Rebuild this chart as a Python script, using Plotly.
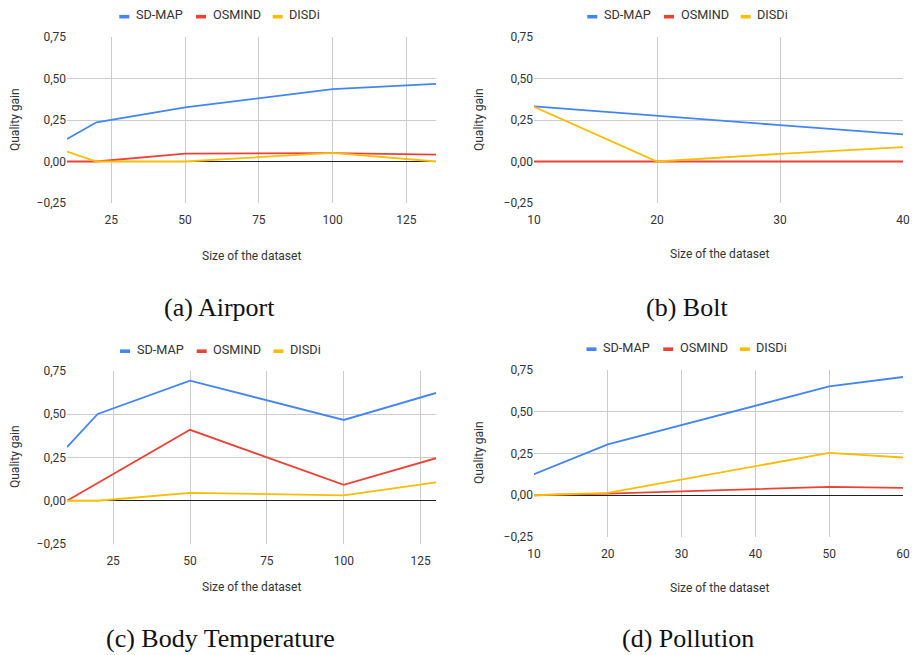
import plotly.graph_objects as go

# ---------------- data ----------------
series_names = ["SD-MAP", "OSMIND", "DISDi"]
series_colors = ["#4285F4", "#EA4335", "#FBBC04"]

a_x = [10, 20, 50, 100, 135]
a_sdmap = [0.136, 0.236, 0.326, 0.436, 0.468]
a_osmind = [0.0, 0.0, 0.048, 0.050, 0.042]
a_disdi = [0.060, 0.0, 0.0, 0.052, 0.0]

b_x = [10, 20, 30, 40]
b_sdmap = [0.332, 0.274, 0.219, 0.163]
b_osmind = [0.0, 0.0, 0.0, 0.0]
b_disdi = [0.330, 0.0, 0.046, 0.086]

c_x = [10, 20, 50, 100, 130]
c_sdmap = [0.310, 0.502, 0.694, 0.467, 0.623]
c_osmind = [0.0, 0.102, 0.410, 0.092, 0.246]
c_disdi = [0.0, 0.0, 0.046, 0.031, 0.106]

d_x = [10, 20, 50, 60]
d_sdmap = [0.126, 0.304, 0.652, 0.708]
d_osmind = [0.0, 0.010, 0.050, 0.044]
d_disdi = [0.0, 0.014, 0.254, 0.226]

captions = ["(a) Airport", "(b) Bolt", "(c) Body Temperature", "(d) Pollution"]
x_title = "Size of the dataset"
y_title = "Quality gain"
y_ticks = [-0.25, 0.0, 0.25, 0.50, 0.75]

panels = [
    dict(x=a_x, ys=[a_sdmap, a_osmind, a_disdi], xrange=[10, 135], xticks=[25, 50, 75, 100, 125]),
    dict(x=b_x, ys=[b_sdmap, b_osmind, b_disdi], xrange=[10, 40], xticks=[10, 20, 30, 40]),
    dict(x=c_x, ys=[c_sdmap, c_osmind, c_disdi], xrange=[10, 130], xticks=[25, 50, 75, 100, 125]),
    dict(x=d_x, ys=[d_sdmap, d_osmind, d_disdi], xrange=[10, 60], xticks=[10, 20, 30, 40, 50, 60]),
]

# ---------------- layout geometry (pixels) ----------------
W, H = 916, 655
boxes = [(67, 436, 37, 203), (534, 903, 37, 203), (67, 436, 371, 544), (534, 903, 370, 537)]
legend_left = [119.3, 587.3, 120, 586.5]          # x of first legend key
legend_y = [14.5, 14.5, 349, 347]
legend_offsets = [0, 76.7, 153.4]
caption_pos = [(219, 307), (687, 307), (220, 638), (688, 638)]
ytitle_pos = [(15, 120), (479, 120), (15, 457), (479, 453)]
xtitle_pos = [(252, 256), (719, 254), (251, 587), (719, 588)]

fx = lambda px: px / W
fy = lambda py: 1 - py / H

font_sans = "Roboto, Arial, sans-serif"
txt = "#333333"

fig = go.Figure()
layout = dict(
    width=W, height=H,
    margin=dict(l=0, r=0, t=0, b=0),
    paper_bgcolor="white", plot_bgcolor="white",
    separators=", ",
    font=dict(family=font_sans, size=12, color=txt),
    annotations=[], shapes=[],
    showlegend=False,
)

grid = "#cccccc"
for i, p in enumerate(panels):
    n = i + 1
    xa = "x" if n == 1 else f"x{n}"
    ya = "y" if n == 1 else f"y{n}"
    l, r, t, b = boxes[i]
    for s in range(3):
        fig.add_trace(go.Scatter(
            x=p["x"], y=p["ys"][s], mode="lines", name=series_names[s],
            line=dict(color=series_colors[s], width=1.8),
            xaxis=xa, yaxis=ya,
        ))
    layout["xaxis" if n == 1 else f"xaxis{n}"] = dict(
        domain=[fx(l), fx(r)], anchor=ya, range=p["xrange"],
        tickvals=p["xticks"], showgrid=True, gridcolor=grid, gridwidth=1,
        zeroline=False, showline=False, ticks="", ticklabelstandoff=8,
        tickfont=dict(size=12, color=txt), automargin=False, fixedrange=True,
    )
    layout["yaxis" if n == 1 else f"yaxis{n}"] = dict(
        domain=[fy(b), fy(t)], anchor=xa, range=[-0.25, 0.75],
        tickvals=y_ticks, tickformat=".2f", showgrid=True, gridcolor=grid, gridwidth=1,
        zeroline=True, zerolinecolor="#222222", zerolinewidth=1, showline=False, ticks="",
        tickfont=dict(size=12, color=txt), automargin=False, fixedrange=True,
    )
    # legend: short thick key + label
    for s in range(3):
        kx = legend_left[i] + legend_offsets[s]
        ky = legend_y[i] + 2.2
        layout["shapes"].append(dict(
            type="rect", xref="paper", yref="paper",
            x0=fx(kx), x1=fx(kx + 10), y0=fy(ky + 1.8), y1=fy(ky - 1.8),
            fillcolor=series_colors[s], line=dict(width=0),
        ))
        layout["annotations"].append(dict(
            text=series_names[s], x=fx(kx + 14.5), y=fy(legend_y[i]),
            xref="paper", yref="paper", showarrow=False,
            xanchor="left", yanchor="middle",
            font=dict(family=font_sans, size=12.7, color=txt),
        ))
    cx, cy = caption_pos[i]
    layout["annotations"].append(dict(
        text=captions[i], x=fx(cx), y=fy(cy), xref="paper", yref="paper",
        showarrow=False, xanchor="center", yanchor="middle",
        font=dict(family="Liberation Serif, DejaVu Serif, serif", size=26, color="#111111"),
    ))
    tx, ty = ytitle_pos[i]
    layout["annotations"].append(dict(
        text=y_title, x=fx(tx), y=fy(ty), xref="paper", yref="paper", textangle=-90,
        showarrow=False, xanchor="center", yanchor="middle",
        font=dict(family=font_sans, size=12, color=txt),
    ))
    tx, ty = xtitle_pos[i]
    layout["annotations"].append(dict(
        text=x_title, x=fx(tx), y=fy(ty), xref="paper", yref="paper",
        showarrow=False, xanchor="center", yanchor="middle",
        font=dict(family=font_sans, size=12, color=txt),
    ))

fig.update_layout(**layout)
fig.write_html("out.html")
